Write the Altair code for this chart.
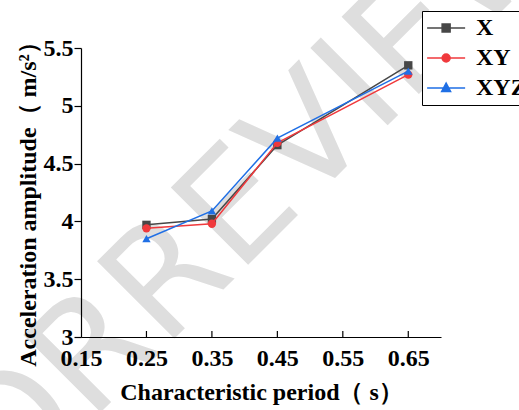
import altair as alt
import pandas as pd

# Characteristic period (s) and peak acceleration (m/s²) for each excitation case
periods = [0.25, 0.35, 0.45, 0.65]
acc_x = [3.97, 4.02, 4.66, 5.35]
acc_xy = [3.94, 3.98, 4.68, 5.27]
acc_xyz = [3.85, 4.09, 4.72, 5.30]

series_names = ["X", "XY", "XYZ"]
series_colors = ["#474747", "#f0393c", "#1f6fe5"]
series_shapes = ["square", "circle", "triangle-up"]

x_ticks = [0.15, 0.25, 0.35, 0.45, 0.55, 0.65]
y_ticks = [3, 3.5, 4, 4.5, 5, 5.5]

W, H = 360, 289
SERIF = "Liberation Serif"

df = pd.DataFrame({
    "period": periods * 3,
    "acc": acc_x + acc_xy + acc_xyz,
    "series": ["X"] * 4 + ["XY"] * 4 + ["XYZ"] * 4,
})

x_scale = alt.Scale(domain=[0.15, 0.70], nice=False)
y_scale = alt.Scale(domain=[3, 5.5], nice=False)

x_enc = alt.X("period:Q", scale=x_scale,
              axis=alt.Axis(values=x_ticks, format=".2f", ticks=False,
                            title="Characteristic period（ s）",
                            labelPadding=9, titlePadding=10, grid=False,
                            labelFlush=False, labelOverlap=False, zindex=1))
y_enc = alt.Y("acc:Q", scale=y_scale,
              axis=alt.Axis(values=y_ticks, format="~g", tickSize=7,
                            title="Acceleration amplitude（ m/s²）",
                            labelPadding=1, titlePadding=3, titleY=150,
                            grid=False, labelFlush=False, labelOverlap=False,
                            zindex=1))

# light diagonal watermark behind the data
wm_style = dict(angle=315, fontSize=150, font="DejaVu Sans", color="#dedede",
                baseline="alphabetic")
wm_left = alt.Chart(pd.DataFrame({"t": ["FOR "]})).mark_text(
    align="right", **wm_style
).encode(text="t:N", x=alt.value(83), y=alt.value(301))
wm_right = alt.Chart(pd.DataFrame({"t": ["REVIEW"]})).mark_text(
    align="left", **wm_style
).encode(text="t:N", x=alt.value(83), y=alt.value(301))

layers = [wm_left, wm_right]
for name, color, shape in zip(series_names, series_colors, series_shapes):
    sub = df[df["series"] == name]
    base = alt.Chart(sub).encode(x=x_enc, y=y_enc)
    layers.append(base.mark_line(color=color, strokeWidth=1.5))
    layers.append(base.mark_point(shape=shape, filled=True, color=color,
                                  size=70, opacity=1))

# inward tick marks on the x axis
tick_df = pd.DataFrame({"period": x_ticks[1:]})
layers.append(
    alt.Chart(tick_df).mark_rule(color="black", strokeWidth=1.2).encode(
        x=alt.X("period:Q", scale=x_scale),
        y=alt.value(H), y2=alt.value(H - 6))
)

# legend: line segment with the series marker in its middle
line_part = "M-1.25,0H2.75"
legend_paths = [
    line_part + "M0.33,-0.42H1.17V0.42H0.33Z",
    line_part + "M0.33,0A0.42,0.42,0,1,1,1.17,0A0.42,0.42,0,1,1,0.33,0Z",
    line_part + "M0.75,-0.52L1.22,0.36H0.28Z",
]
legend_df = pd.DataFrame({"Series": series_names, "period": [0.3] * 3, "acc": [4] * 3})
leg = alt.Legend(orient="none", legendX=341, legendY=-37, title=None,
                 strokeColor="black", fillColor="white", padding=5,
                 labelFont=SERIF, labelFontSize=24, labelFontWeight="bold",
                 labelColor="black", symbolSize=361, symbolStrokeWidth=1.5,
                 labelOffset=25, rowPadding=6, symbolOpacity=1)
legend_layer = alt.Chart(legend_df).transform_filter("false").mark_point(
    filled=True, opacity=1
).encode(
    x=alt.X("period:Q", scale=x_scale),
    y=alt.Y("acc:Q", scale=y_scale),
    fill=alt.Fill("Series:N", scale=alt.Scale(domain=series_names, range=series_colors), legend=leg),
    stroke=alt.Stroke("Series:N", scale=alt.Scale(domain=series_names, range=series_colors), legend=leg),
    shape=alt.Shape("Series:N", scale=alt.Scale(domain=series_names, range=legend_paths), legend=leg),
)
layers.append(legend_layer)

chart = alt.layer(*layers).properties(
    width=W, height=H,
    autosize=alt.AutoSizeParams(type="none"),
    padding={"left": 81, "top": 48, "right": 78, "bottom": 73},
).configure_view(stroke=None).configure_axis(
    labelFont=SERIF, labelFontSize=24, labelFontWeight="bold", labelColor="black",
    titleFont=SERIF, titleFontSize=24, titleFontWeight="bold", titleColor="black",
    domainColor="black", tickColor="black", domainWidth=1.2, tickWidth=1.2,
)

chart.save("out.html", embed_options={"renderer": "svg", "actions": False})
